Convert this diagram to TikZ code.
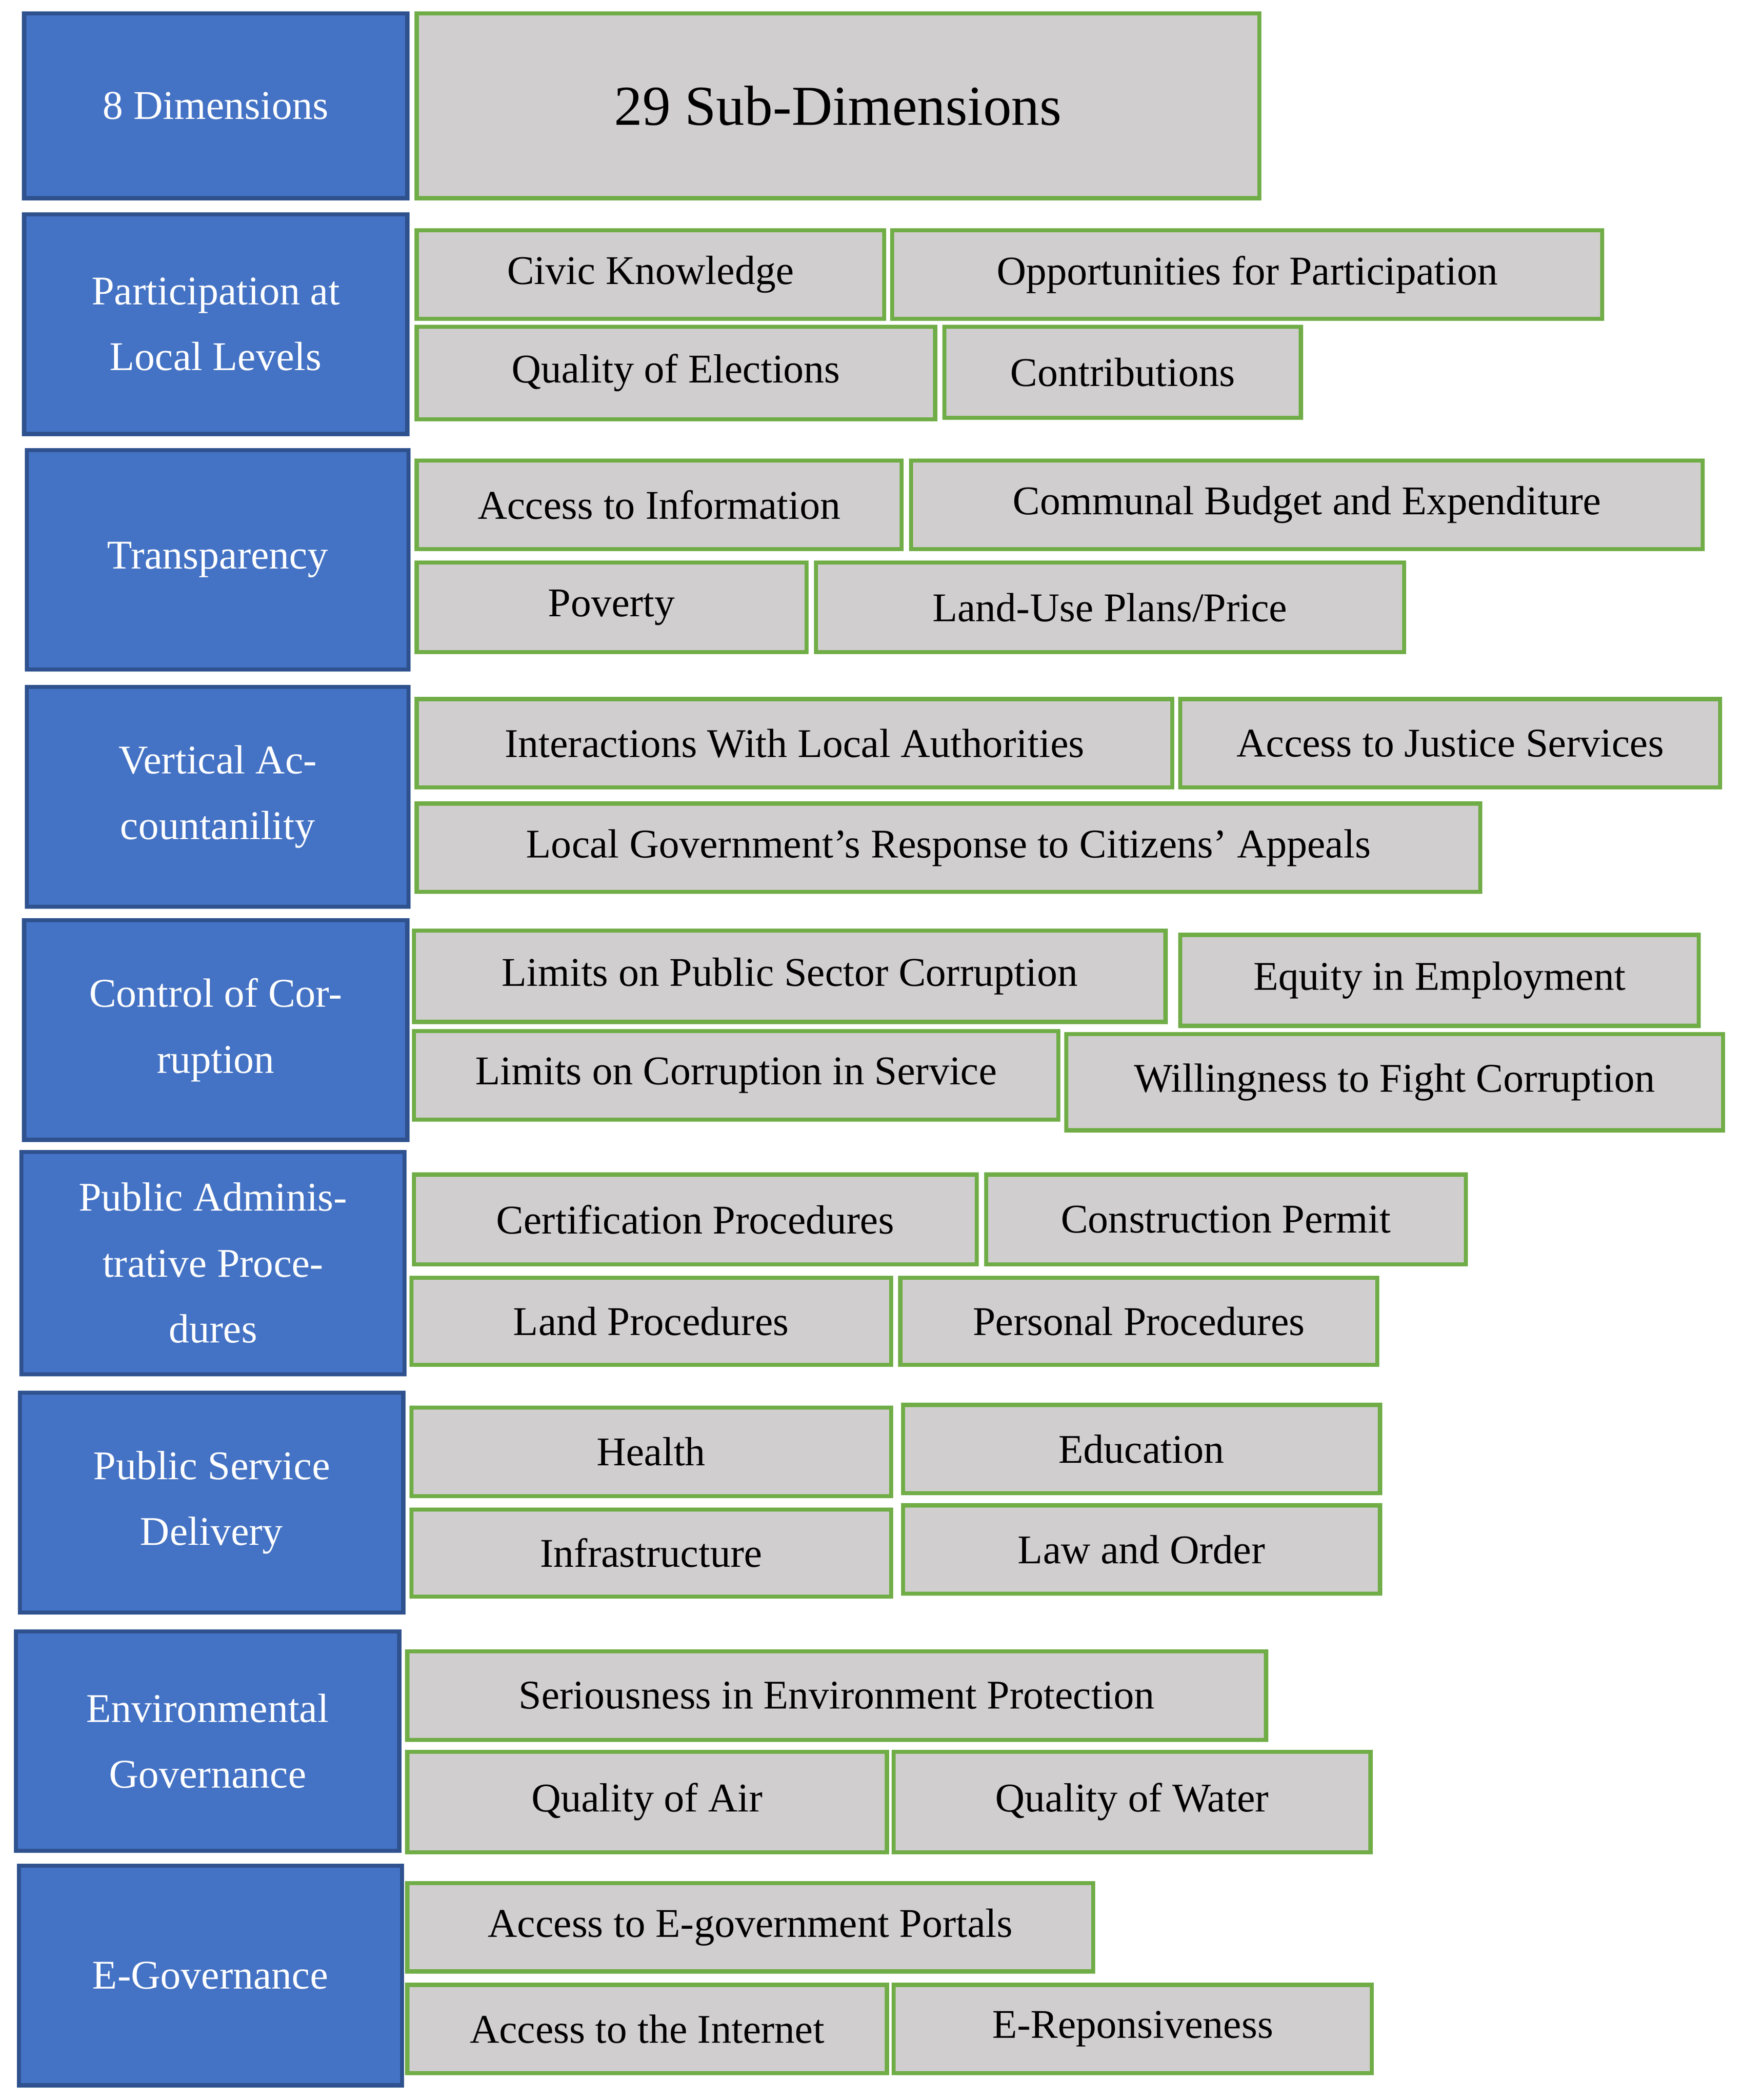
\documentclass[tikz,border=0pt]{standalone}
\usepackage{fontspec}
\setmainfont{Liberation Serif}
\begin{document}
\newcommand{\bx}[7]{\node[#2, minimum width={(#5-#3)*0.03cm}, minimum height={(#6-#4)*0.03cm}] (#1) at ({(#3+#5)/2},{(#4+#6)/2}) {#7};}
\begin{tikzpicture}[x=0.03cm,y=-0.03cm,
 base/.style={rectangle, inner sep=0pt, outer sep=0pt, line width=2.6pt, align=center, font=\fontsize{26}{42}\selectfont},
 dim/.style={base, fill={rgb,255:red,68;green,114;blue,196}, draw={rgb,255:red,47;green,82;blue,143}, text=white},
 sub/.style={base, fill={rgb,255:red,208;green,206;blue,206}, draw={rgb,255:red,112;green,173;blue,71}, text=black}]
\useasboundingbox (0,0) rectangle (1300,1568);
\bx{d0}{dim}{18}{10}{304}{148}{8 Dimensions}
\bx{d1}{dim}{18}{160}{304}{324}{Participation at\\Local Levels}
\bx{d2}{dim}{20}{336}{305}{500}{Transparency}
\bx{d3}{dim}{20}{513}{305}{677}{Vertical Ac-\\countanility}
\bx{d4}{dim}{18}{687}{304}{851}{Control of Cor-\\ruption}
\bx{d5}{dim}{16}{860}{302}{1026}{Public Adminis-\\trative Proce-\\dures}
\bx{d6}{dim}{15}{1040}{301}{1204}{Public Service\\Delivery}
\bx{d7}{dim}{12}{1218}{298}{1382}{Environmental\\Governance}
\bx{d8}{dim}{14}{1393}{300}{1557}{E-Governance}
\bx{s0}{sub,font=\fontsize{36}{42}\selectfont}{311}{10}{940}{148}{29 Sub-Dimensions}
\bx{s1}{sub}{311}{172}{660}{238}{Civic Knowledge}
\bx{s2}{sub}{666}{172}{1196}{238}{Opportunities for Participation}
\bx{s3}{sub}{311}{244}{698}{313}{Quality of Elections}
\bx{s4}{sub}{705}{244}{971}{312}{Contributions}
\bx{s5}{sub}{311}{344}{673}{410}{Access to Information}
\bx{s6}{sub}{680}{344}{1271}{410}{Communal Budget and Expenditure}
\bx{s7}{sub}{311}{420}{602}{487}{Poverty}
\bx{s8}{sub}{609}{420}{1048}{487}{Land-Use Plans/Price}
\bx{s9}{sub}{311}{522}{875}{588}{Interactions With Local Authorities}
\bx{s10}{sub}{881}{522}{1284}{588}{Access to Justice Services}
\bx{s11}{sub}{311}{600}{1105}{666}{Local Government’s Response to Citizens’ Appeals}
\bx{s12}{sub}{309}{695}{870}{763}{Limits on Public Sector Corruption}
\bx{s13}{sub}{881}{698}{1268}{766}{Equity in Employment}
\bx{s14}{sub}{309}{770}{790}{836}{Limits on Corruption in Service}
\bx{s15}{sub}{796}{772}{1286}{844}{Willingness to Fight Corruption}
\bx{s16}{sub}{309}{877}{729}{944}{Certification Procedures}
\bx{s17}{sub}{736}{877}{1094}{944}{Construction Permit}
\bx{s18}{sub}{307}{954}{665}{1019}{Land Procedures}
\bx{s19}{sub}{672}{954}{1028}{1019}{Personal Procedures}
\bx{s20}{sub}{307}{1051}{665}{1117}{Health}
\bx{s21}{sub}{674}{1049}{1030}{1115}{Education}
\bx{s22}{sub}{307}{1127}{665}{1192}{Infrastructure}
\bx{s23}{sub}{674}{1124}{1030}{1190}{Law and Order}
\bx{s24}{sub}{304}{1233}{945}{1299}{Seriousness in Environment Protection}
\bx{s25}{sub}{304}{1308}{662}{1383}{Quality of Air}
\bx{s26}{sub}{667}{1308}{1023}{1383}{Quality of Water}
\bx{s27}{sub}{304}{1406}{816}{1472}{Access to E-government Portals}
\bx{s28}{sub}{304}{1482}{662}{1548}{Access to the Internet}
\bx{s29}{sub}{667}{1482}{1024}{1548}{E-Reponsiveness}
\end{tikzpicture}
\end{document}
